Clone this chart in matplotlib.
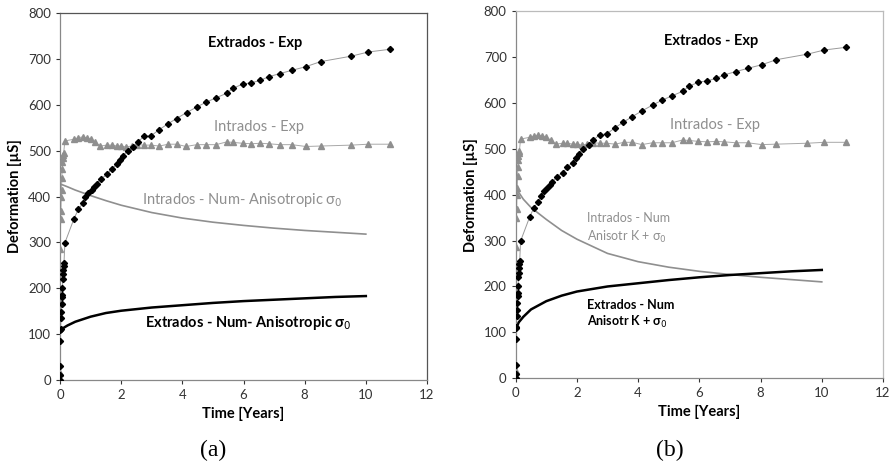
import matplotlib
matplotlib.use("Agg")
import matplotlib.pyplot as plt

# ---- data ----
ext_exp_t = [0, 0.003, 0.005, 0.01, 0.015, 0.02, 0.03, 0.04, 0.05, 0.06, 0.07, 0.08, 0.09, 0.10, 0.11, 0.12, 0.13,
             0.16, 0.46, 0.60, 0.74, 0.82, 0.93, 1.03, 1.12, 1.20, 1.34, 1.55, 1.69, 1.87, 1.96, 2.07, 2.21,
             2.38, 2.54, 2.75, 2.97, 3.25, 3.52, 3.81, 4.14, 4.47, 4.79, 5.10, 5.45, 5.66, 5.97, 6.26, 6.54,
             6.82, 7.19, 7.58, 8.04, 8.52, 9.53, 10.08, 10.8]
ext_exp_v = [0, 10, 30, 85, 110, 112, 135, 148, 165, 180, 185, 200, 220, 230, 240, 248, 255,
             299, 352, 372, 385, 398, 407, 414, 421, 427, 439, 448, 461, 470, 480, 489, 500,
             508, 519, 531, 532, 546, 558, 570, 583, 595, 606, 615, 625, 636, 645, 648, 653,
             661, 668, 675, 683, 694, 706, 715, 721]

int_exp_t = [0, 0.003, 0.01, 0.02, 0.03, 0.04, 0.05, 0.06, 0.07, 0.08, 0.09, 0.10, 0.12,
             0.16, 0.46, 0.60, 0.74, 0.87, 1.00, 1.14, 1.31, 1.53, 1.69, 1.87, 2.00, 2.16, 2.34, 2.53,
             2.75, 2.96, 3.25, 3.54, 3.81, 4.12, 4.47, 4.79, 5.10, 5.45, 5.66, 5.97, 6.26, 6.54, 6.82,
             7.19, 7.58, 8.04, 8.52, 9.53, 10.08, 10.8]
int_exp_v = [0, 15, 285, 350, 368, 400, 415, 440, 460, 475, 485, 490, 495,
             521, 525, 528, 530, 528, 525, 519, 510, 512, 512, 510, 510, 508, 510, 513,
             512, 512, 510, 514, 514, 509, 513, 513, 513, 519, 518, 516, 515, 516, 515,
             513, 513, 509, 510, 512, 514, 514]

num_t = [0, 0.1, 0.25, 0.5, 1, 1.5, 2, 3, 4, 5, 6, 7, 8, 9, 10]
# panel (a): Anisotropic sigma0
int_num_a = [427, 425, 421, 414, 402, 391, 381, 365, 353, 344, 337, 331, 326, 322, 318]
ext_num_a = [105, 113, 119, 127, 138, 146, 151, 158, 163, 168, 172, 175, 178, 181, 183]
# panel (b): Anisotr K + sigma0
int_num_b = [418, 405, 390, 372, 346, 322, 303, 272, 254, 242, 233, 226, 220, 215, 210]
ext_num_b = [107, 122, 134, 150, 168, 180, 189, 200, 207, 214, 220, 225, 229, 233, 236]

xticks = [0, 2, 4, 6, 8, 10, 12]
yticks = [0, 100, 200, 300, 400, 500, 600, 700, 800]

GRAY = "#8f8f8f"
FONT = "Lato"

fig = plt.figure(figsize=(8.91, 4.68), dpi=100)
axA = fig.add_axes([60/891, 1-380/468, (427-60)/891, (380-13)/468])
axB = fig.add_axes([515.7/891, 1-378.3/468, (883-515.7)/891, (378.3-11)/468])

def base(ax, spine_color):
    ax.plot(ext_exp_t, ext_exp_v, color="#9a9a9a", lw=0.7, zorder=2)
    ax.plot(ext_exp_t, ext_exp_v, ls="none", marker="D", ms=3.1, color="black", zorder=4)
    ax.plot(int_exp_t, int_exp_v, color="#a8a8a8", lw=0.7, zorder=2)
    ax.plot(int_exp_t, int_exp_v, ls="none", marker="^", ms=4.0, color=GRAY, zorder=3)
    ax.set_xlim(0, 12)
    ax.set_ylim(0, 800)
    ax.set_xticks(xticks)
    ax.set_yticks(yticks)
    ax.tick_params(labelsize=9.5, colors="#333333", length=3, width=0.8, direction="out")
    for lab in ax.get_xticklabels() + ax.get_yticklabels():
        lab.set_fontfamily(FONT)
    for s in ax.spines.values():
        s.set_color(spine_color)
        s.set_linewidth(0.9)
    ax.spines["left"].set_color("#888888")
    ax.spines["bottom"].set_color("#888888")
    ax.set_xlabel("Time [Years]", fontsize=10.5, fontweight="bold", family=FONT, labelpad=4)
    ax.set_ylabel("Deformation [µS]", fontsize=10.5, fontweight="bold", family=FONT, labelpad=4)
    ax.text(6.37, 734, "Extrados - Exp", ha="center", va="center", fontsize=10.5,
            fontweight="bold", family=FONT, color="black")
    ax.text(6.5, 551, "Intrados - Exp", ha="center", va="center", fontsize=10.5,
            family=FONT, color=GRAY)

base(axA, "#555555")
axA.plot(num_t, int_num_a, color=GRAY, lw=1.2, zorder=2)
axA.plot(num_t, ext_num_a, color="black", lw=1.8, zorder=2)
axA.text(5.96, 392, "Intrados - Num- Anisotropic σ$_0$", ha="center", va="center",
         fontsize=10.5, family=FONT, color=GRAY)
axA.text(6.15, 125, "Extrados - Num- Anisotropic σ$_0$", ha="center", va="center",
         fontsize=10.5, family=FONT, color="black", fontweight="bold")

base(axB, "#bbbbbb")
axB.plot(num_t, int_num_b, color=GRAY, lw=1.2, zorder=2)
axB.plot(num_t, ext_num_b, color="black", lw=1.8, zorder=2)
axB.text(2.32, 349, "Intrados - Num", ha="left", va="center", fontsize=9, family=FONT, color=GRAY)
axB.text(2.32, 307, "Anisotr K + σ$_0$", ha="left", va="center", fontsize=9, family=FONT, color=GRAY)
axB.text(2.32, 160, "Extrados - Num", ha="left", va="center", fontsize=9, family=FONT,
         color="black", fontweight="bold")
axB.text(2.32, 123, "Anisotr K + σ$_0$", ha="left", va="center", fontsize=9, family=FONT,
         color="black", fontweight="bold")

fig.text(213/891, 1-450/468, "(a)", ha="center", va="center", fontsize=17, family="Liberation Serif")
fig.text(670/891, 1-450/468, "(b)", ha="center", va="center", fontsize=17, family="Liberation Serif")

fig.savefig("out.png", dpi=100)
